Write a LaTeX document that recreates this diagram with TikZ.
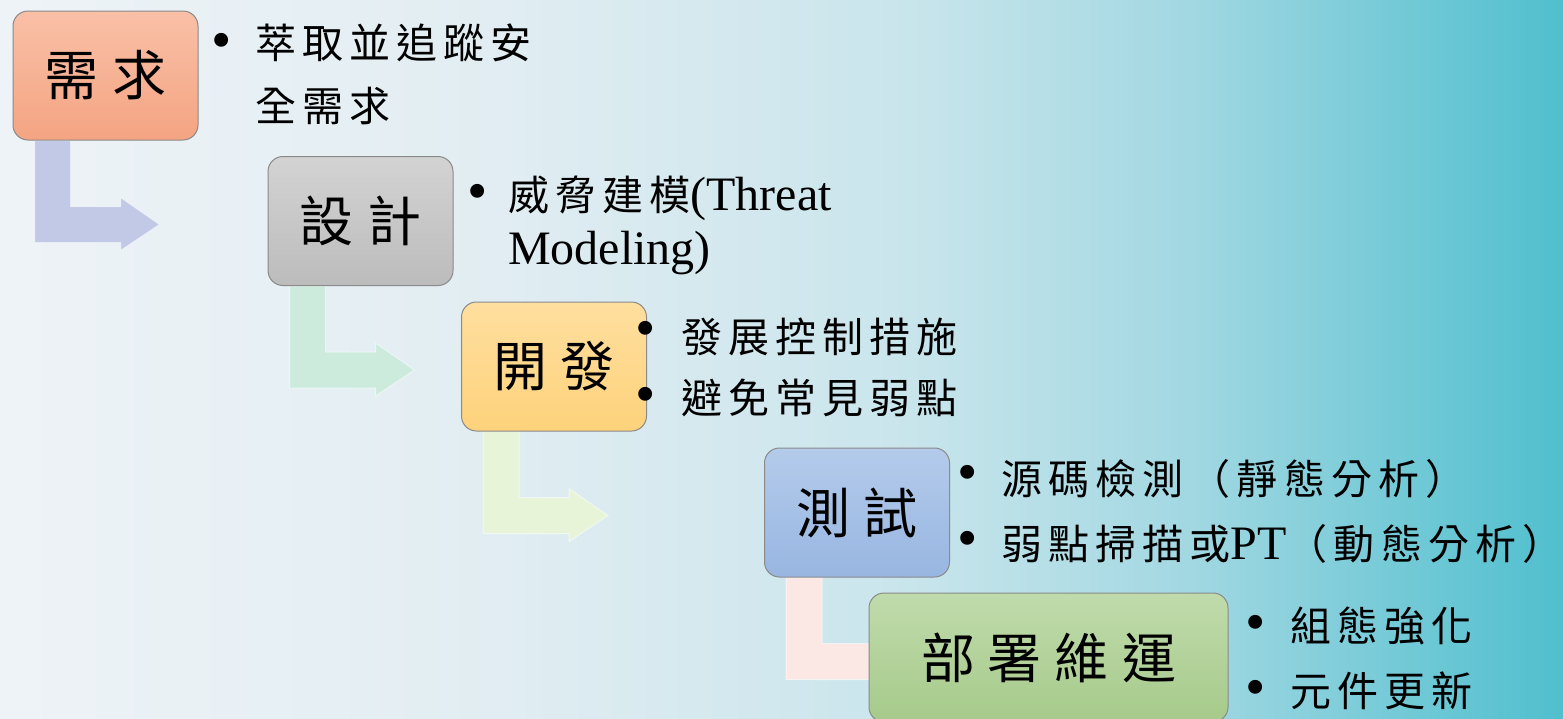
\documentclass[tikz,border=0pt]{standalone}
\usepackage{fontspec}
\setmainfont{Liberation Serif}
\newfontfamily\cjkb[LetterSpace=15]{Noto Sans CJK TC}
\newfontfamily\cjkt{Noto Sans CJK TC}
\newcommand\cb[1]{{\cjkb\fontsize{41}{50}\selectfont #1}}
\usetikzlibrary{calc}
\pgfdeclarelayer{background}
\pgfsetlayers{background,main}
\definecolor{bgA}{HTML}{EEF3F7}
\definecolor{bgB}{HTML}{E1EDF2}
\definecolor{bgC}{HTML}{C9E5EC}
\definecolor{bgD}{HTML}{A2D8E2}
\definecolor{bgE}{HTML}{50BFCE}
\pgfdeclarehorizontalshading{bgshade}{100bp}{color(0bp)=(bgA); color(25bp)=(bgA); color(41bp)=(bgB); color(54bp)=(bgC); color(63bp)=(bgD); color(75bp)=(bgE); color(100bp)=(bgE)}
\definecolor{rA}{HTML}{F9C0A7}\definecolor{rB}{HTML}{F4A482}
\definecolor{gA}{HTML}{D3D3D3}\definecolor{gB}{HTML}{BCBCBC}
\definecolor{yA}{HTML}{FFDF9F}\definecolor{yB}{HTML}{FDD27B}
\definecolor{bA}{HTML}{B4CBEB}\definecolor{bB}{HTML}{98B6E1}
\definecolor{nA}{HTML}{C0DBAB}\definecolor{nB}{HTML}{A6CA8B}
\definecolor{boxline}{HTML}{8A8A8A}
\definecolor{arrA}{HTML}{C1C9E7}
\definecolor{arrB}{HTML}{CCEBDD}
\definecolor{arrC}{HTML}{E8F4D8}
\definecolor{arrD}{HTML}{FBE8E4}
\newcommand\bentarr[2]{%
  \begin{scope}[shift={(#1.south west)}]
  \fill[#2, draw=white, draw opacity=0.5, line width=1pt]
    (22,0) -- (58,0) -- (58,66) -- (108,66) -- (108,57) -- (147,84)
    -- (108,110) -- (108,102) -- (22,102) -- cycle;
  \end{scope}}
\tikzset{
  stage/.style={draw=boxline, line width=1pt, rounded corners=15pt,
    minimum width=185pt, minimum height=129pt, inner sep=0pt,
    font=\cjkt\fontsize{54}{60}\selectfont},
  btxt/.style={anchor=base west, inner sep=0pt, font=\fontsize{48}{50}\selectfont},
  bdot/.style={inner sep=0pt, font=\fontsize{58}{60}\selectfont}
}
\begin{document}
\begin{tikzpicture}[x=1pt,y=-1pt]
\useasboundingbox (0,0) rectangle (1563,718);
% stages
\node[stage, top color=rA, bottom color=rB] (req) at (105.5,75.5) {需\hspace{14pt}求};
\node[stage, top color=gA, bottom color=gB] (des) at (360.5,221) {設\hspace{14pt}計};
\node[stage, top color=yA, bottom color=yB] (dev) at (554,366.5) {開\hspace{14pt}發};
\node[stage, top color=bA, bottom color=bB] (tst) at (857,512.5) {測\hspace{14pt}試};
\node[stage, top color=nA, bottom color=nB, minimum width=359pt] (ops) at (1048.5,657.5) {部\hspace{13pt}署\hspace{13pt}維\hspace{13pt}運};
\begin{pgfonlayer}{background}
\shade[shading=bgshade] (0,0) rectangle (1563,718);
\bentarr{req}{arrA}
\bentarr{des}{arrB}
\bentarr{dev}{arrC}
\bentarr{tst}{arrD}
\end{pgfonlayer}
% bullets
\node[bdot] (d1) at (222,46) {•};
\node[btxt] (t1a) at (255,58) {\cb{萃取並追蹤安}};
\node[btxt] (t1b) at (255,121) {\cb{全需求}};
\node[bdot] (d2) at (478,197) {•};
\node[btxt] (t2a) at (508,210) {\cb{威脅建模}(Threat};
\node[btxt] (t2b) at (508,264) {Modeling)};
\node[bdot] (d3a) at (646,334) {•};
\node[bdot] (d3b) at (646,400) {•};
\node[btxt] (t3a) at (681,352) {\cb{發展控制措施}};
\node[btxt] (t3b) at (681,413) {\cb{避免常見弱點}};
\node[bdot] (d4a) at (968,478) {•};
\node[bdot] (d4b) at (968,544) {•};
\node[btxt] (t4a) at (1001,494) {\cb{源碼檢測（靜態分析）}};
\node[btxt] (t4b) at (1001,559) {\cb{弱點掃描或}PT\cb{（動態分析）}};
\node[bdot] (d5a) at (1256,628) {•};
\node[bdot] (d5b) at (1256,693) {•};
\node[btxt] (t5a) at (1290,641) {\cb{組態強化}};
\node[btxt] (t5b) at (1290,706) {\cb{元件更新}};
\end{tikzpicture}
\end{document}
